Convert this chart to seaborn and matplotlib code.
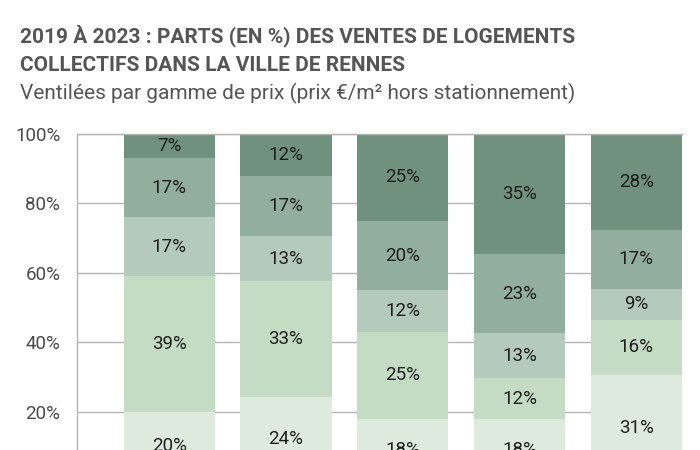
import numpy as np
import pandas as pd
import matplotlib
matplotlib.use("Agg")
import matplotlib.pyplot as plt
import seaborn as sns

# --------------------------------------------------------------------------- #
# Data (bottom segment first)
# --------------------------------------------------------------------------- #
years = ["2019", "2020", "2021", "2022", "2023"]
seg1 = [20, 24, 18, 18, 31]   # lowest price range
seg2 = [39, 33, 25, 12, 16]
seg3 = [17, 13, 12, 13, 9]
seg4 = [17, 17, 20, 23, 17]
seg5 = [7, 12, 25, 35, 28]    # highest price range
y_ticks = [0, 20, 40, 60, 80, 100]

colors = ["#dfeadf", "#c4dbc4", "#b3cabd", "#92ae9f", "#6f917e"]

title = "2019 À 2023 : PARTS (EN %) DES VENTES DE LOGEMENTS\nCOLLECTIFS DANS LA VILLE DE RENNES"
subtitle = "Ventilées par gamme de prix (prix €/m² hors stationnement)"

sns.set_style("white")
plt.rcParams["font.family"] = ["Roboto", "DejaVu Sans"]

segs = np.array([seg1, seg2, seg3, seg4, seg5], dtype=float)
shares = segs / segs.sum(axis=0) * 100   # rounding: make each bar reach 100%
tops = np.cumsum(shares, axis=0)

fig = plt.figure(figsize=(7, 4.5), dpi=100)
# the source image is cropped at the bottom, so the axes run past the figure edge
ax = fig.add_axes([0.11, -0.069, 0.864, 0.771])

# stacked bars: draw cumulative totals from the top layer down
for k in range(len(segs) - 1, -1, -1):
    df = pd.DataFrame({"year": years, "top": tops[k]})
    sns.barplot(data=df, x="year", y="top", color=colors[k], width=0.78,
                saturation=1, linewidth=0, edgecolor="none", ax=ax, zorder=2)

for k in range(len(segs)):
    for i in range(len(years)):
        mid = tops[k, i] - shares[k, i] / 2
        ax.text(i, mid, f"{int(segs[k, i])}%", ha="center", va="center",
                fontsize=13.5, color="#1e1e1e", zorder=3)

ax.set_xlim(-0.79, 4.39)
ax.set_ylim(0, 100)
ax.set_yticks(y_ticks)
ax.set_yticklabels([f"{t}%" for t in y_ticks], fontsize=13.5, color="#4a4a4a")
ax.tick_params(axis="y", length=0, pad=12)
ax.set_xlabel("")
ax.set_ylabel("")
ax.set_xticks([])
ax.yaxis.grid(True, color="#b5b5b5", linewidth=1, zorder=0)
ax.set_axisbelow(True)
for side in ["left", "top"]:
    ax.spines[side].set_color("#b5b5b5")
    ax.spines[side].set_linewidth(1)
ax.spines["right"].set_visible(False)
ax.spines["bottom"].set_visible(False)

fig.text(0.029, 0.945, title, fontsize=15, fontweight="bold", color="#555555",
         va="top", linespacing=1.6)
fig.text(0.029, 0.815, subtitle, fontsize=15, color="#555555", va="top")

fig.savefig("out.png", dpi=100)
